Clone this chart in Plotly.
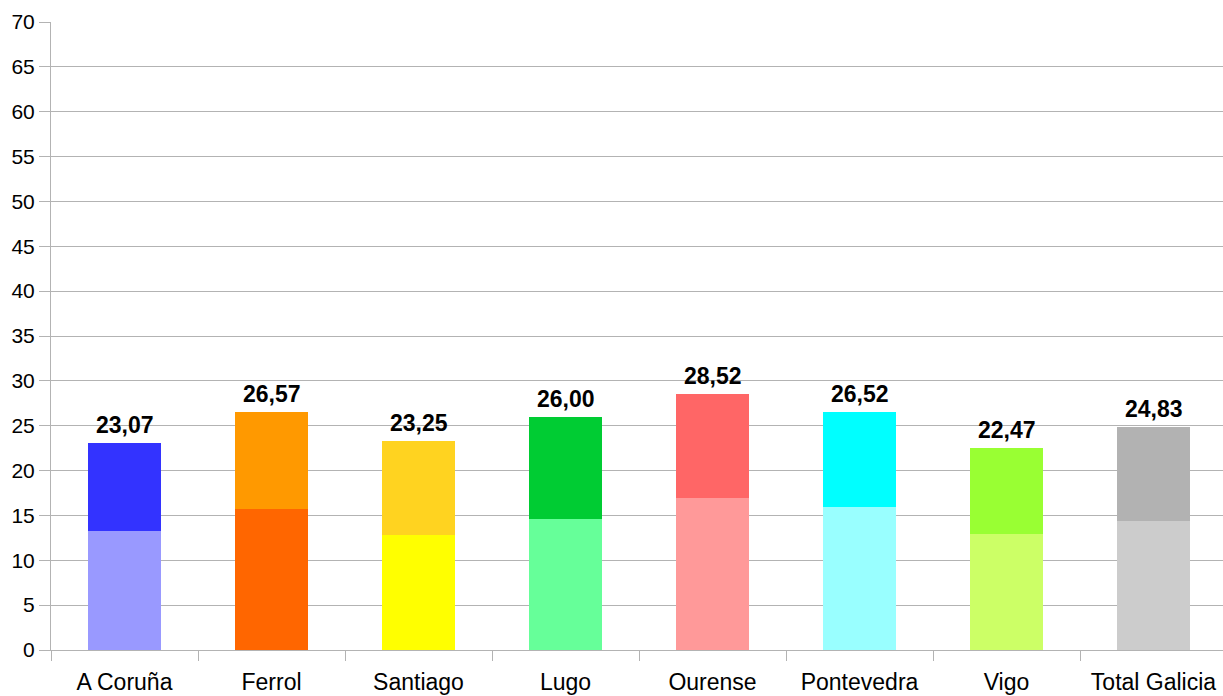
import plotly.graph_objects as go

categories = ["A Coruña", "Ferrol", "Santiago", "Lugo", "Ourense", "Pontevedra", "Vigo", "Total Galicia"]
totals = [23.07, 26.57, 23.25, 26.00, 28.52, 26.52, 22.47, 24.83]
lower = [13.28, 15.73, 12.83, 14.62, 16.96, 15.96, 12.94, 14.40]
total_labels = ["23,07", "26,57", "23,25", "26,00", "28,52", "26,52", "22,47", "24,83"]
lower_colors = ["#9999FF", "#FF6600", "#FFFF00", "#66FF99", "#FF9999", "#99FFFF", "#CCFF66", "#CCCCCC"]
upper_colors = ["#3333FF", "#FF9900", "#FFD320", "#00CC33", "#FF6666", "#00FFFF", "#99FF33", "#B2B2B2"]

upper = [round(t - l, 2) for t, l in zip(totals, lower)]

fig = go.Figure()
fig.add_trace(go.Bar(x=categories, y=lower, marker=dict(color=lower_colors, line=dict(width=0)),
                     width=0.5, hoverinfo="y"))
fig.add_trace(go.Bar(x=categories, y=upper, marker=dict(color=upper_colors, line=dict(width=0)),
                     width=0.5, hoverinfo="y"))

for c, t, lab in zip(categories, totals, total_labels):
    fig.add_annotation(x=c, y=t, text="<b>" + lab + "</b>", showarrow=False,
                       yanchor="bottom", yshift=3,
                       font=dict(family="Liberation Sans, Arial, sans-serif", size=23, color="#000000"))

fig.update_layout(
    barmode="stack",
    width=1227, height=696,
    margin=dict(l=51, r=0, t=22, b=46, autoexpand=False),
    paper_bgcolor="white", plot_bgcolor="white",
    showlegend=False,
    font=dict(family="Liberation Sans, Arial, sans-serif", size=20, color="#000000"),
    bargap=0.5,
)
fig.update_xaxes(
    automargin=False,
    showgrid=False, showline=True, linecolor="#b3b3b3", linewidth=1,
    ticks="outside", tickson="boundaries", ticklen=10, tickcolor="#b3b3b3", tickwidth=1,
    ticklabelstandoff=11,
    tickfont=dict(size=23),
)
fig.update_yaxes(
    automargin=False,
    range=[0, 70], dtick=5, showgrid=True, gridcolor="#b3b3b3", gridwidth=1,
    showline=True, linecolor="#b3b3b3", linewidth=1,
    ticks="outside", ticklen=11, tickcolor="#b3b3b3",
    tickfont=dict(size=21), zeroline=False,
)

fig.write_html("out.html", config={"displayModeBar": False},
               post_script="document.body.style.margin='0';document.body.style.overflow='hidden';")
